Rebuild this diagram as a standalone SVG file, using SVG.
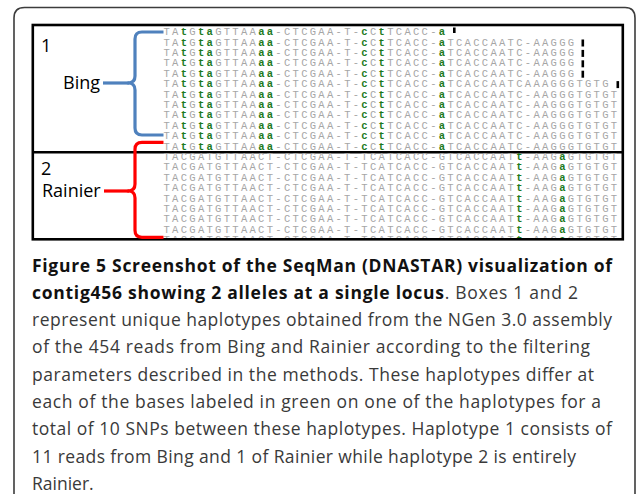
<svg xmlns="http://www.w3.org/2000/svg" width="636" height="494" viewBox="0 0 636 494">
  <style>
    .frame { fill: none; stroke: #3c3c3c; stroke-width: 1.6; }
    .box { fill: #ffffff; stroke: #000000; stroke-width: 2.6; }
    .rule { stroke: #000000; stroke-width: 2.6; }
    .seq { font-family: "Liberation Mono", "DejaVu Sans Mono", monospace; font-size: 10.5px; letter-spacing: 2.3px; fill: #a6a6a6; }
    .g { fill: #1d7a1d; font-weight: bold; }
    .mark { fill: #000000; }
    .label { font-family: "Open Sans", "Liberation Sans", sans-serif; font-size: 18px; fill: #000000; }
    .brace { fill: none; stroke-width: 3.2; stroke-linejoin: round; stroke-linecap: butt; }
    .bing { stroke: #4f81bd; }
    .rainier { stroke: #ff0000; }
    .cap { font-family: "Open Sans", "Liberation Sans", sans-serif; font-size: 17.5px; fill: #3a3a3a; }
    .capb { font-weight: bold; fill: #111111; }
  </style>
  <defs>
    <clipPath id="seqClip">
      <rect x="33.5" y="26.3" width="588" height="211.8"/>
    </clipPath>
  </defs>

  <!-- outer figure frame -->
  <path class="frame" d="M14,500 L14,18 Q14,7.5 24.5,7.5 L625,7.5 Q635,7.5 635,18 L635,500"/>

  <!-- alignment panel -->
  <g id="panel">
    <rect class="box" x="32.8" y="25" width="590" height="214.3"/>
    <line class="rule" x1="32.8" y1="152.2" x2="622.8" y2="152.2"/>
  </g>

  <!-- read alignment rows -->
  <g id="reads" clip-path="url(#seqClip)">
    <text class="seq" x="163.5" y="35.2">TA<tspan class="g">t</tspan>G<tspan class="g">ta</tspan>GTTAA<tspan class="g">aa</tspan>-CTCGAA-T-<tspan class="g">c</tspan>C<tspan class="g">t</tspan>TCACC-<tspan class="g">a</tspan></text>
    <text class="seq" x="163.5" y="45.6">TA<tspan class="g">t</tspan>G<tspan class="g">ta</tspan>GTTAA<tspan class="g">aa</tspan>-CTCGAA-T-<tspan class="g">c</tspan>C<tspan class="g">t</tspan>TCACC-<tspan class="g">a</tspan>TCACCAATC-AAGGG</text>
    <text class="seq" x="163.5" y="56.0">TA<tspan class="g">t</tspan>G<tspan class="g">ta</tspan>GTTAA<tspan class="g">aa</tspan>-CTCGAA-T-<tspan class="g">c</tspan>C<tspan class="g">t</tspan>TCACC-<tspan class="g">a</tspan>TCACCAATC-AAGGG</text>
    <text class="seq" x="163.5" y="66.4">TA<tspan class="g">t</tspan>G<tspan class="g">ta</tspan>GTTAA<tspan class="g">aa</tspan>-CTCGAA-T-<tspan class="g">c</tspan>C<tspan class="g">t</tspan>TCACC-<tspan class="g">a</tspan>TCACCAATC-AAGGG</text>
    <text class="seq" x="163.5" y="76.8">TA<tspan class="g">t</tspan>G<tspan class="g">ta</tspan>GTTAA<tspan class="g">aa</tspan>-CTCGAA-T-<tspan class="g">c</tspan>C<tspan class="g">t</tspan>TCACC-<tspan class="g">a</tspan>TCACCAATC-AAGGG</text>
    <text class="seq" x="163.5" y="87.2">TA<tspan class="g">t</tspan>G<tspan class="g">ta</tspan>GTTAA<tspan class="g">aa</tspan>-CTCGAA-T-<tspan class="g">c</tspan>C<tspan class="g">t</tspan>TCACC-<tspan class="g">a</tspan>TCACCAATCAAAGGGTGTG</text>
    <text class="seq" x="163.5" y="97.6">TA<tspan class="g">t</tspan>G<tspan class="g">ta</tspan>GTTAA<tspan class="g">aa</tspan>-CTCGAA-T-<tspan class="g">c</tspan>C<tspan class="g">t</tspan>TCACC-<tspan class="g">a</tspan>TCACCAATC-AAGGGTGTGT</text>
    <text class="seq" x="163.5" y="108.0">TA<tspan class="g">t</tspan>G<tspan class="g">ta</tspan>GTTAA<tspan class="g">aa</tspan>-CTCGAA-T-<tspan class="g">c</tspan>C<tspan class="g">t</tspan>TCACC-<tspan class="g">a</tspan>TCACCAATC-AAGGGTGTGT</text>
    <text class="seq" x="163.5" y="118.4">TA<tspan class="g">t</tspan>G<tspan class="g">ta</tspan>GTTAA<tspan class="g">aa</tspan>-CTCGAA-T-<tspan class="g">c</tspan>C<tspan class="g">t</tspan>TCACC-<tspan class="g">a</tspan>TCACCAATC-AAGGGTGTGT</text>
    <text class="seq" x="163.5" y="128.8">TA<tspan class="g">t</tspan>G<tspan class="g">ta</tspan>GTTAA<tspan class="g">aa</tspan>-CTCGAA-T-<tspan class="g">c</tspan>C<tspan class="g">t</tspan>TCACC-<tspan class="g">a</tspan>TCACCAATC-AAGGGTGTGT</text>
    <text class="seq" x="163.5" y="139.2">TA<tspan class="g">t</tspan>G<tspan class="g">ta</tspan>GTTAA<tspan class="g">aa</tspan>-CTCGAA-T-<tspan class="g">c</tspan>C<tspan class="g">t</tspan>TCACC-<tspan class="g">a</tspan>TCACCAATC-AAGGGTGTGT</text>
    <text class="seq" x="163.5" y="149.6">TA<tspan class="g">t</tspan>G<tspan class="g">ta</tspan>GTTAA<tspan class="g">aa</tspan>-CTCGAA-T-<tspan class="g">c</tspan>C<tspan class="g">t</tspan>TCACC-<tspan class="g">a</tspan>TCACCAATC-AAGGGTGTGT</text>
    <text class="seq" x="163.5" y="160.0">TACGATGTTAACT-CTCGAA-T-TCATCACC-GTCACCAAT<tspan class="g">t</tspan>-AAG<tspan class="g">a</tspan>GTGTGT</text>
    <text class="seq" x="163.5" y="170.4">TACGATGTTAACT-CTCGAA-T-TCATCACC-GTCACCAAT<tspan class="g">t</tspan>-AAG<tspan class="g">a</tspan>GTGTGT</text>
    <text class="seq" x="163.5" y="180.8">TACGATGTTAACT-CTCGAA-T-TCATCACC-GTCACCAAT<tspan class="g">t</tspan>-AAG<tspan class="g">a</tspan>GTGTGT</text>
    <text class="seq" x="163.5" y="191.2">TACGATGTTAACT-CTCGAA-T-TCATCACC-GTCACCAAT<tspan class="g">t</tspan>-AAG<tspan class="g">a</tspan>GTGTGT</text>
    <text class="seq" x="163.5" y="201.6">TACGATGTTAACT-CTCGAA-T-TCATCACC-GTCACCAAT<tspan class="g">t</tspan>-AAG<tspan class="g">a</tspan>GTGTGT</text>
    <text class="seq" x="163.5" y="212.0">TACGATGTTAACT-CTCGAA-T-TCATCACC-GTCACCAAT<tspan class="g">t</tspan>-AAG<tspan class="g">a</tspan>GTGTGT</text>
    <text class="seq" x="163.5" y="222.4">TACGATGTTAACT-CTCGAA-T-TCATCACC-GTCACCAAT<tspan class="g">t</tspan>-AAG<tspan class="g">a</tspan>GTGTGT</text>
    <text class="seq" x="163.5" y="232.8">TACGATGTTAACT-CTCGAA-T-TCATCACC-GTCACCAAT<tspan class="g">t</tspan>-AAG<tspan class="g">a</tspan>GTGTGT</text>
    <text class="seq" x="163.5" y="243.2">TACGATGTTAACT-CTCGAA-T-TCATCACC-GTCACCAAT<tspan class="g">t</tspan>-AAG<tspan class="g">a</tspan>GTGTGT</text>

    <!-- read-end markers -->
    <rect class="mark" x="453" y="27.5" width="2.6" height="5.5"/>
    <rect class="mark" x="581.5" y="39.5" width="2.6" height="7"/>
    <rect class="mark" x="581.5" y="49.9" width="2.6" height="7"/>
    <rect class="mark" x="581.5" y="60.3" width="2.6" height="7"/>
    <rect class="mark" x="581.5" y="70.7" width="2.6" height="7"/>
    <rect class="mark" x="616.5" y="81.1" width="2.6" height="7"/>
  </g>

  <!-- haplotype 1 -->
  <g id="hap1">
    <text class="label" x="41" y="52">1</text>
    <text class="label" x="63" y="88.5">Bing</text>
  </g>

  <!-- haplotype 2 -->
  <g id="hap2">
    <text class="label" x="41" y="175">2</text>
    <text class="label" x="42" y="197">Rainier</text>
  </g>

  <!-- braces grouping reads by cultivar -->
  <g id="connectors">
    <path class="brace bing" d="M163.5,32 L142,32 Q135,32 135,39 L135,76 Q135,83 128,83 Q135,83 135,90 L135,128 Q135,135 142,135 L163.5,135"/>
    <line class="brace bing" x1="103" y1="83" x2="129" y2="83"/>
    <path class="brace rainier" d="M163.5,142.3 L142,142.3 Q135,142.3 135,149.3 L135,184 Q135,191 128,191 Q135,191 135,198 L135,230.3 Q135,237.3 142,237.3 L163.5,237.3"/>
    <line class="brace rainier" x1="104" y1="191" x2="129" y2="191"/>
  </g>

  <!-- figure caption -->
  <g id="caption">
    <text class="cap capb" x="32" y="271.5" textLength="580" lengthAdjust="spacing">Figure 5 Screenshot of the SeqMan (DNASTAR) visualization of</text>
    <text class="cap" x="32" y="298.8" textLength="546" lengthAdjust="spacing"><tspan class="capb">contig456 showing 2 alleles at a single locus</tspan>. Boxes 1 and 2</text>
    <text class="cap" x="32" y="326.1" textLength="580" lengthAdjust="spacing">represent unique haplotypes obtained from the NGen 3.0 assembly</text>
    <text class="cap" x="32" y="353.4" textLength="558" lengthAdjust="spacing">of the 454 reads from Bing and Rainier according to the filtering</text>
    <text class="cap" x="32" y="380.7" textLength="562" lengthAdjust="spacing">parameters described in the methods. These haplotypes differ at</text>
    <text class="cap" x="32" y="408" textLength="569" lengthAdjust="spacing">each of the bases labeled in green on one of the haplotypes for a</text>
    <text class="cap" x="32" y="435.3" textLength="580" lengthAdjust="spacing">total of 10 SNPs between these haplotypes. Haplotype 1 consists of</text>
    <text class="cap" x="32" y="462.6" textLength="544" lengthAdjust="spacing">11 reads from Bing and 1 of Rainier while haplotype 2 is entirely</text>
    <text class="cap" x="32" y="489.9">Rainier.</text>
  </g>
</svg>
